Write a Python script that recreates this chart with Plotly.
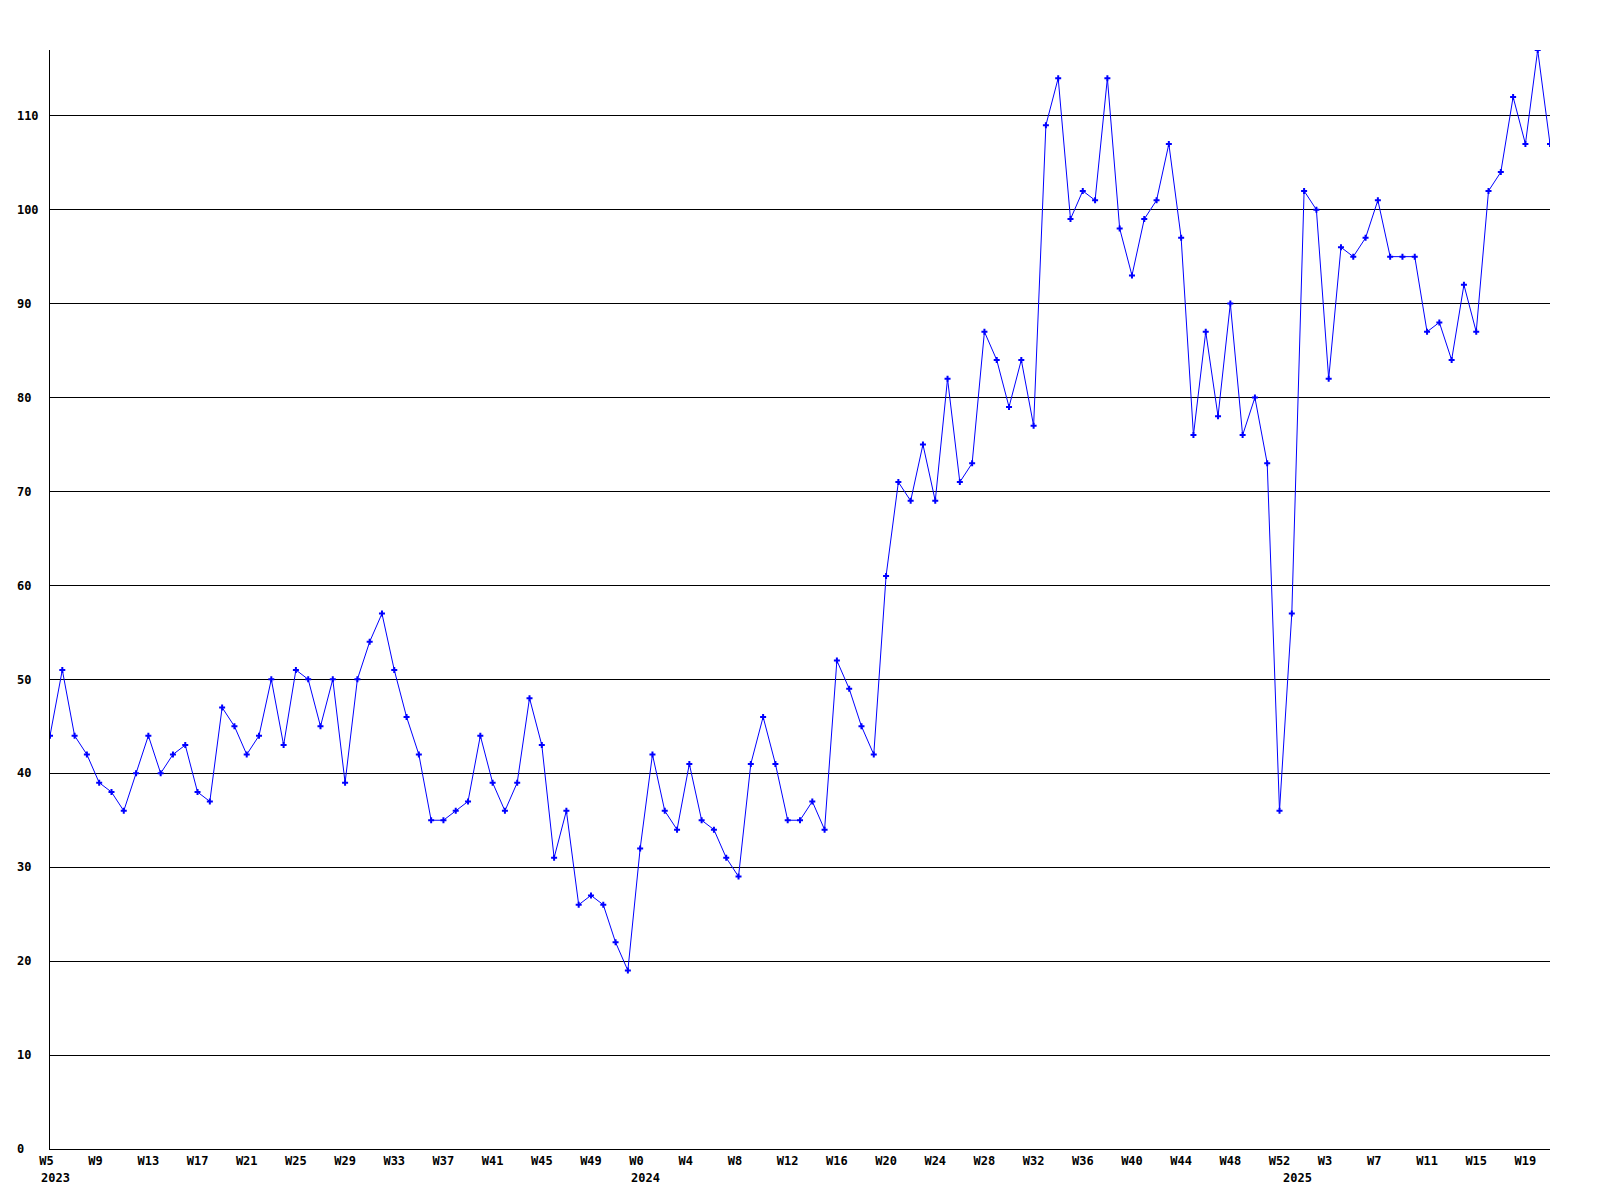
import plotly.graph_objects as go

# Weekly values
values_2023 = [44, 51, 44, 42, 39, 38, 36, 40, 44, 40, 42, 43, 38, 37, 47, 45, 42, 44, 50, 43,
               51, 50, 45, 50, 39, 50, 54, 57, 51, 46, 42, 35, 35, 36, 37, 44, 39, 36, 39, 48,
               43, 31, 36, 26, 27, 26, 22, 19]  # W5..W52
values_2024 = [32, 42, 36, 34, 41, 35, 34, 31, 29, 41, 46, 41, 35, 35, 37, 34, 52, 49, 45, 42,
               61, 71, 69, 75, 69, 82, 71, 73, 87, 84, 79, 84, 77, 109, 114, 99, 102, 101, 114, 98,
               93, 99, 101, 107, 97, 76, 87, 78, 90, 76, 80, 73, 36]  # W0..W52
values_2025 = [57, 102, 100, 82, 96, 95, 97, 101, 95, 95, 95, 87, 88, 84, 92, 87, 102, 104, 112,
               107, 117, 107]  # W0..W21

weeks_2023 = list(range(5, 53))
weeks_2024 = list(range(0, 53))
weeks_2025 = list(range(0, 22))

week_labels = ([f"W{w}" for w in weeks_2023] + [f"W{w}" for w in weeks_2024]
               + [f"W{w}" for w in weeks_2025])
years = [2023] * len(weeks_2023) + [2024] * len(weeks_2024) + [2025] * len(weeks_2025)
values = values_2023 + values_2024 + values_2025
x = list(range(len(values)))

# x tick every 4 weeks starting at the first point
tick_idx = x[::4]
tick_text = [week_labels[i].ljust(3).replace(" ", "\u00a0") for i in tick_idx]

y_ticks = list(range(0, 111, 10))
y_text = [str(v).ljust(3).replace(" ", "\u00a0") for v in y_ticks]

# year labels at first point of each year
year_pos = []
seen = set()
for i, yr in enumerate(years):
    if yr not in seen:
        seen.add(yr)
        year_pos.append((i, str(yr)))

font = dict(family="DejaVu Sans Mono", size=12, color="black")

fig = go.Figure()
fig.add_trace(go.Scatter(
    x=x, y=values, mode="lines+markers",
    line=dict(color="#0000ff", width=1),
    marker=dict(symbol="cross", size=5, color="#0000ff", line=dict(width=0)),
    showlegend=False, hoverinfo="skip",
))

for i, label in year_pos:
    fig.add_annotation(x=i, y=0, xref="x", yref="y", text=f"<b>{label}</b>",
                       showarrow=False, xanchor="left", yanchor="top",
                       xshift=-11, yshift=-20, font=font)

fig.update_layout(
    width=1600, height=1200,
    margin=dict(l=42, r=58, t=42, b=59),
    paper_bgcolor="white", plot_bgcolor="white",
    font=font,
)
fig.update_xaxes(
    range=[0, len(values) - 1], tickmode="array", tickvals=tick_idx,
    ticktext=[f"<b>{t}</b>" for t in tick_text],
    showgrid=False, zeroline=False, showline=True, linecolor="black", linewidth=1,
    ticks="", tickfont=font, ticklabelstandoff=1, automargin=False,
)
fig.update_yaxes(
    range=[0, 117], tickmode="array", tickvals=y_ticks,
    ticktext=[f"<b>{t}</b>" for t in y_text],
    showgrid=True, gridcolor="black", gridwidth=1, zeroline=False,
    showline=True, linecolor="black", linewidth=1,
    ticks="", tickfont=font, ticklabelstandoff=8, automargin=False,
)

fig.write_html("out.html")
